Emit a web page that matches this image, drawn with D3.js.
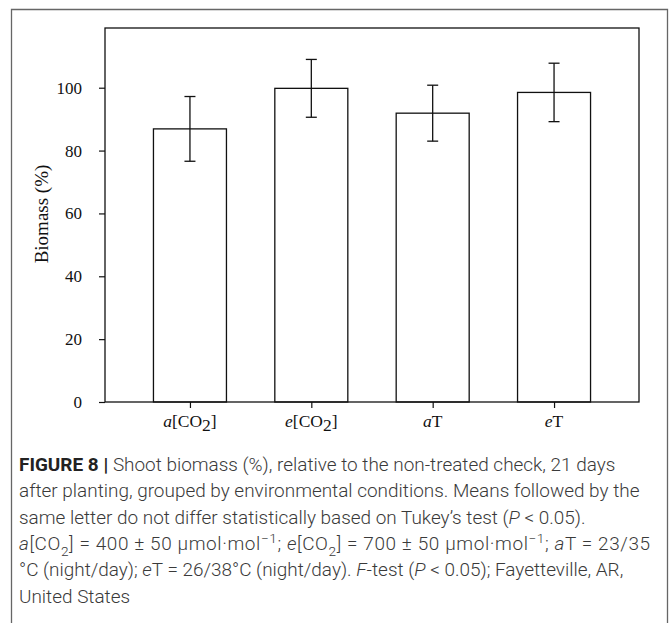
<!DOCTYPE html>
<html>
<head>
<meta charset="utf-8">
<script src="https://cdn.jsdelivr.net/npm/d3@7/dist/d3.min.js"></script>
<style>
  html, body { margin: 0; padding: 0; background: #fff; }
  svg { display: block; }
</style>
</head>
<body>
<script>
// ---- data ----
const categories = ["a[CO2]", "e[CO2]", "aT", "eT"];
const biomass = [86.9, 99.8, 91.9, 98.5];
const errors = [10.3, 9.2, 8.9, 9.3];
const yTicks = [0, 20, 40, 60, 80, 100];
const yTitle = "Biomass (%)";
// label parts: [italic prefix, rest, subscript, closing]
const labelParts = [["a", "[CO", "2", "]"], ["e", "[CO", "2", "]"], ["a", "T", "", ""], ["e", "T", "", ""]];

const captionLines = [
  [["FIGURE 8 | ", "b"], ["Shoot biomass (%), relative to the non-treated check, 21 days", ""]],
  [["after planting, grouped by environmental conditions. Means followed by the", ""]],
  [["same letter do not differ statistically based on Tukey\u2019s test (", ""], ["P", "i"], [" < 0.05).", ""]],
  [["a", "i"], ["[CO", ""], ["2", "sub"], ["] = 400 \u00b1 50 \u00b5mol\u00b7mol", ""], ["\u22121", "sup"], ["; ", ""], ["e", "i"], ["[CO", ""], ["2", "sub"], ["] = 700 \u00b1 50 \u00b5mol\u00b7mol", ""], ["\u22121", "sup"], ["; ", ""], ["a", "i"], ["T = 23/35", ""]],
  [["\u00b0C (night/day); ", ""], ["e", "i"], ["T = 26/38\u00b0C (night/day). ", ""], ["F", "i"], ["-test (", ""], ["P", "i"], [" < 0.05); Fayetteville, AR,", ""]],
  [["United States", ""]]
];

const W = 671, H = 623;
const svg = d3.select("body").append("svg").attr("width", W).attr("height", H);

// outer frame (open at bottom)
svg.append("path")
  .attr("d", `M11.5,${H} L11.5,9.5 L667.5,9.5 L667.5,${H}`)
  .attr("fill", "none").attr("stroke", "#666").attr("stroke-width", 1.3);

const plot = { left: 105, right: 639, top: 28, bottom: 402 };
const x = d3.scalePoint().domain(categories).range([plot.left, plot.right]).padding(0.7);
const y = d3.scaleLinear().domain([0, 119]).range([plot.bottom, plot.top]);
const barW = 73;
const serif = "'Liberation Serif', 'DejaVu Serif', serif";

const g = svg.append("g");

// bars
g.selectAll("rect.bar").data(categories).join("rect")
  .attr("x", d => x(d) - barW / 2)
  .attr("y", (d, i) => y(biomass[i]))
  .attr("width", barW)
  .attr("height", (d, i) => y(0) - y(biomass[i]))
  .attr("fill", "#fff").attr("stroke", "#111").attr("stroke-width", 1.3);

// error bars
const eb = g.selectAll("g.err").data(categories).join("g");
eb.append("line")
  .attr("x1", d => x(d)).attr("x2", d => x(d))
  .attr("y1", (d, i) => y(biomass[i] + errors[i]))
  .attr("y2", (d, i) => y(biomass[i] - errors[i]))
  .attr("stroke", "#111").attr("stroke-width", 1.3);
[1, -1].forEach(s => {
  eb.append("line")
    .attr("x1", d => x(d) - 5.5).attr("x2", d => x(d) + 5.5)
    .attr("y1", (d, i) => y(biomass[i] + s * errors[i]))
    .attr("y2", (d, i) => y(biomass[i] + s * errors[i]))
    .attr("stroke", "#111").attr("stroke-width", 1.3);
});

// plot frame
g.append("rect")
  .attr("x", plot.left).attr("y", plot.top)
  .attr("width", plot.right - plot.left).attr("height", plot.bottom - plot.top)
  .attr("fill", "none").attr("stroke", "#111").attr("stroke-width", 1.3);

// y axis
const yAxis = g.append("g").attr("transform", `translate(${plot.left},0)`)
  .call(d3.axisLeft(y).tickValues(yTicks).tickSize(6).tickPadding(17).tickFormat(d3.format("d")));
yAxis.select(".domain").remove();
yAxis.selectAll("line").attr("stroke", "#111").attr("stroke-width", 1.2);
yAxis.selectAll("text").attr("font-family", serif).attr("font-size", 17).attr("fill", "#111");

// x axis
const xAxis = g.append("g").attr("transform", `translate(0,${plot.bottom})`)
  .call(d3.axisBottom(x).tickSize(6).tickFormat(""));
xAxis.select(".domain").remove();
xAxis.selectAll("line").attr("stroke", "#111").attr("stroke-width", 1.2);

const xl = g.selectAll("text.xl").data(categories).join("text")
  .attr("class", "xl")
  .attr("x", d => x(d)).attr("y", 427)
  .attr("text-anchor", "middle")
  .attr("font-family", serif).attr("font-size", 17.5).attr("fill", "#111");
xl.each(function(d, i) {
  const p = labelParts[i];
  const t = d3.select(this);
  t.append("tspan").attr("font-style", "italic").text(p[0]);
  t.append("tspan").text(p[1]);
  if (p[2]) {
    t.append("tspan").attr("dy", 4).text(p[2]);
    t.append("tspan").attr("dy", -4).text(p[3]);
  }
});

// y title
g.append("text")
  .attr("transform", `translate(48,${(y(0) + y(119)) / 2 - 1}) rotate(-90)`)
  .attr("text-anchor", "middle")
  .attr("font-family", serif).attr("font-size", 19).attr("fill", "#111")
  .text(yTitle);

// caption
const capFont = "Roboto, 'Liberation Sans', Arial, sans-serif";
const capX = 19, capY0 = 471, capDY = 26.3;
const cap = svg.append("g").attr("fill", "#3a3a3a").attr("font-family", capFont).attr("font-weight", 300);
function drawCaption(fs) {
  cap.selectAll("*").remove();
  captionLines.forEach((segs, li) => {
    const t = cap.append("text").attr("x", capX).attr("y", capY0 + li * capDY).attr("font-size", fs);
    let shift = 0;
    segs.forEach(([txt, st]) => {
      const ts = t.append("tspan").text(txt);
      let target = 0;
      if (st === "b") ts.attr("font-weight", "bold").attr("fill", "#222");
      if (st === "i") ts.attr("font-style", "italic");
      if (st === "sub") { target = fs * 0.3; ts.attr("font-size", fs * 0.72); }
      if (st === "sup") { target = -fs * 0.38; ts.attr("font-size", fs * 0.72); }
      if (target !== shift) { ts.attr("dy", target - shift); shift = target; }
    });
  });
}
drawCaption(16);
// fit font size so line 2 spans to the reference right edge
const widths = cap.selectAll("text").nodes().map(n => n.getComputedTextLength());
const fs = 16 * (640 - capX) / widths[1];
drawCaption(fs);
// line 4 has wider symbol glyphs in the reference: spread it to its reference end
const l4 = cap.selectAll("text").nodes()[3];
if (l4.getComputedTextLength() < 650 - capX) {
  d3.select(l4).attr("textLength", 650 - capX).attr("lengthAdjust", "spacing");
}
</script>
</body>
</html>
